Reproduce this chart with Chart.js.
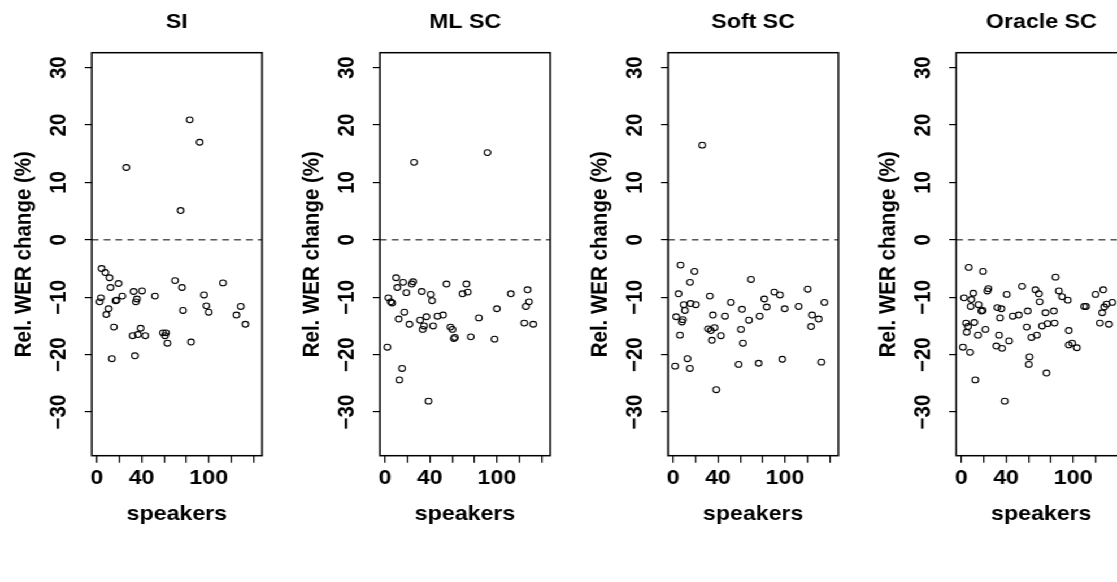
<!DOCTYPE html>
<html>
<head>
<meta charset="utf-8">
<script src="https://cdn.jsdelivr.net/npm/chart.js@4.4.1/dist/chart.umd.min.js"></script>
<style>
html, body { margin: 0; padding: 0; background: #fff; overflow: hidden; width: 1117px; height: 582px; }
/* the reference is stretched sideways, so the whole row is too */
#wrap { position: absolute; left: 0; top: 0; width: 1100px; height: 582px; transform: scaleX(1.13); transform-origin: 0 0; }
.panel { position: absolute; top: 0; width: 255px; height: 582px; }
</style>
</head>
<body>
<div id="wrap">
  <div class="panel" style="left:0px"><canvas id="c0" width="255" height="582"></canvas></div>
  <div class="panel" style="left:255.16px"><canvas id="c1" width="255" height="582"></canvas></div>
  <div class="panel" style="left:510.32px"><canvas id="c2" width="255" height="582"></canvas></div>
  <div class="panel" style="left:765.49px"><canvas id="c3" width="255" height="582"></canvas></div>
</div>
<script>
// panel titles
var panelTitles = ['SI', 'ML SC', 'Soft SC', 'Oracle SC'];

// SI
var siX = [26.3, 83, 91.9, 74.9, 4.2, 7.5, 11.3, 19.4, 12.2, 3.6, 2.4, 10.4, 8.4, 16.7, 17.6, 22.7, 15.2, 13.4,
  32.8, 40.3, 35.8, 34.9, 39.1, 36.7, 31.9, 43.3, 34.0, 51.9, 59.1, 61.8, 60.9, 63.0, 69.9, 76.1, 77.0, 84.2,
  95.8, 97.9, 100, 112.8, 124.8, 128.7, 132.8];
var siY = [12.6, 20.9, 17.0, 5.1, -5.0, -5.7, -6.6, -7.6, -8.3, -10.1, -10.8, -12.0, -13.0, -10.6, -10.5, -9.8, -15.2, -20.7,
  -9.0, -8.9, -10.3, -10.8, -15.4, -16.5, -16.7, -16.7, -20.2, -9.8, -16.2, -16.2, -16.7, -18.0, -7.1, -8.3, -12.3, -17.8,
  -9.6, -11.5, -12.6, -7.5, -13.1, -11.6, -14.7];

// ML SC
var mlX = [26, 91.6, 9.9, 11, 16.1, 25.1, 23.9, 19.1, 3, 5.1, 6.3, 12.2, 17.3, 21.8, 2.1, 15.2, 12.8,
  32.8, 40.9, 42.1, 31.3, 33.7, 34.9, 37, 43, 46.9, 51.9, 38.8, 54.9, 58.5, 60.3, 61.5, 62.4, 69.3, 72.8, 74,
  76.7, 83.9, 97.9, 100, 112.5, 124.5, 126, 127.5, 128.7, 132.5];
var mlY = [13.5, 15.2, -6.6, -8.3, -7.4, -7.3, -7.7, -9.2, -10.1, -10.8, -11.0, -13.8, -12.6, -14.7, -18.7, -22.4, -24.4,
  -9.0, -9.5, -10.6, -14.0, -15.6, -15.0, -13.4, -15.0, -13.3, -13.1, -28.1, -7.7, -15.2, -15.6, -17.2, -17.0, -9.4, -7.7, -9.1,
  -16.9, -13.6, -17.3, -12.0, -9.4, -14.5, -11.6, -8.7, -10.8, -14.7];

// Soft SC
var softX = [26, 6.5, 19, 4.8, 15, 2.7, 8.6, 7.8, 9.5, 10.5, 15.5, 20.3, 6, 1.8, 12.8, 14.9,
  32.8, 31.3, 33.7, 37, 35.5, 34.6, 42.7, 46.3, 38.5, 51.6, 61.5, 60.6, 62.4, 58.5, 67.8, 69.6,
  77.3, 76.4, 81.5, 83.6, 90.4, 95.5, 99.7, 97.6, 112.2, 120.3, 124.2, 123.3, 130.1, 132.5, 135.2];
var softY = [16.5, -4.4, -5.5, -9.4, -7.4, -13.4, -13.9, -14.3, -11.3, -12.3, -11.1, -11.3, -16.6, -22.0, -20.7, -22.4,
  -9.8, -15.5, -15.8, -15.3, -13.1, -17.5, -16.7, -13.3, -26.1, -10.9, -12.1, -15.6, -18.0, -21.7, -14.0, -6.9,
  -13.3, -21.5, -10.3, -11.7, -9.1, -9.6, -12.0, -20.8, -11.6, -8.6, -13.1, -15.1, -13.8, -21.3, -10.9];

// Oracle SC
var oracleX = [6.6, 19.4, 84.2, 2.4, 9, 8.4, 10.7, 15.5, 17.9, 19.1, 23.3, 24.2, 4.2, 6, 11.6, 4.8, 14.9, 21.5,
  1.5, 7.8, 12.5, 32.2, 35.8, 34.6, 40.6, 33.7, 31.3, 36.4, 42.7, 38.8, 46, 51.3, 54.3, 59.4, 58.5, 62.7,
  60.9, 60.3, 66.3, 69.3, 70.1, 72.2, 67.5, 75.2, 77, 82.7, 83.3, 76.1, 87.2, 90.1, 95.2, 96.1, 96.1, 99.1,
  103.3, 109.9, 111.6, 120, 126.9, 126, 127.8, 129.9, 135, 123.9, 132];
var oracleY = [-4.8, -5.5, -6.5, -10.1, -10.4, -11.6, -9.3, -11.3, -12.4, -12.3, -8.9, -8.5, -14.5, -15.1, -14.4, -16.1, -16.6, -15.6,
  -18.7, -19.6, -24.4, -11.8, -12.0, -13.6, -9.5, -16.6, -18.5, -18.9, -17.6, -28.1, -13.3, -13.1, -8.1, -12.4, -15.2, -17.0,
  -20.4, -21.7, -8.7, -9.4, -10.8, -15.0, -16.6, -12.7, -14.6, -12.4, -14.5, -23.2, -8.9, -9.9, -10.5, -15.8, -18.3, -18.0,
  -18.8, -11.6, -11.6, -9.5, -8.7, -12.7, -11.7, -11.2, -10.9, -14.5, -14.7];

// axes
var yTicks = [-30, -20, -10, 0, 10, 20, 30];
var xTicks = [0, 20, 40, 60, 80, 100, 120, 140];
var xTickLabels = [0, 40, 100];

var seriesX = [siX, mlX, softX, oracleX];
var seriesY = [siY, mlY, softY, oracleY];

var fontFamily = '"Liberation Sans", Arial, Helvetica, sans-serif';
var boldFont = { family: fontFamily, size: 20.5, weight: 'bold' };

// box round the plot and dashed zero line
var framePlugin = {
  id: 'frame',
  beforeDatasetsDraw: function (chart) {
    var a = chart.chartArea;
    var ctx = chart.ctx;
    var y0 = chart.scales.y.getPixelForValue(0);
    ctx.save();
    ctx.strokeStyle = '#000';
    ctx.lineWidth = 1;
    ctx.setLineDash([6, 4.5]);
    ctx.beginPath();
    ctx.moveTo(a.left, y0);
    ctx.lineTo(a.right, y0);
    ctx.stroke();
    ctx.setLineDash([]);
    ctx.lineWidth = 1.5;
    ctx.strokeRect(a.left, a.top, a.right - a.left, a.bottom - a.top);
    ctx.restore();
  }
};

function fmtMinus(v) {
  return v < 0 ? '\u2212' + Math.abs(v) : String(v);
}

for (var i = 0; i < 4; i++) {
  var pts = seriesX[i].map(function (x, j) { return { x: x, y: seriesY[i][j] }; });
  var ctx = document.getElementById('c' + i).getContext('2d');
  new Chart(ctx, {
    type: 'scatter',
    data: {
      datasets: [{
        data: pts,
        pointStyle: 'circle',
        pointRadius: 2.9,
        pointBorderWidth: 1.1,
        pointBorderColor: '#000',
        pointBackgroundColor: 'rgba(0,0,0,0)'
      }]
    },
    options: {
      responsive: false,
      animation: false,
      devicePixelRatio: 1,
      layout: { padding: { left: 0, right: 23.1, top: 0, bottom: 0 } },
      plugins: {
        legend: { display: false },
        tooltip: { enabled: false },
        title: {
          display: true,
          text: panelTitles[i],
          fullSize: false,
          color: '#000',
          font: boldFont,
          padding: { top: 10.5, bottom: 17.6 }
        }
      },
      scales: {
        x: {
          type: 'linear',
          min: -4.6,
          max: 147.7,
          afterBuildTicks: function (s) { s.ticks = xTicks.map(function (v) { return { value: v }; }); },
          afterFit: function (s) { s.height = 126.3; },
          border: { display: false },
          grid: { display: true, drawOnChartArea: false, drawTicks: true, tickLength: 7, color: '#000', lineWidth: 1.2 },
          ticks: {
            autoSkip: false,
            maxRotation: 0,
            padding: 3.3,
            color: '#000',
            font: boldFont,
            callback: function (v) { return xTickLabels.indexOf(v) >= 0 ? String(v) : ''; }
          },
          title: {
            display: true,
            text: 'speakers',
            color: '#000',
            font: boldFont,
            padding: { top: 0, bottom: 55 }
          }
        },
        y: {
          type: 'linear',
          min: -37.6,
          max: 32.6,
          afterBuildTicks: function (s) { s.ticks = yTicks.map(function (v) { return { value: v }; }); },
          afterFit: function (s) { s.width = 81.2; },
          border: { display: false },
          grid: { display: true, drawOnChartArea: false, drawTicks: true, tickLength: 6.2, color: '#000', lineWidth: 1.2 },
          ticks: {
            minRotation: 90,
            maxRotation: 90,
            crossAlign: 'center',
            padding: 5.4,
            color: '#000',
            font: boldFont,
            callback: function (v) { return fmtMinus(v); }
          },
          title: {
            display: true,
            text: 'Rel. WER change (%)',
            color: '#000',
            font: boldFont,
            padding: { top: 8.9, bottom: 0 }
          }
        }
      }
    },
    plugins: [framePlugin]
  });
}
</script>
</body>
</html>
